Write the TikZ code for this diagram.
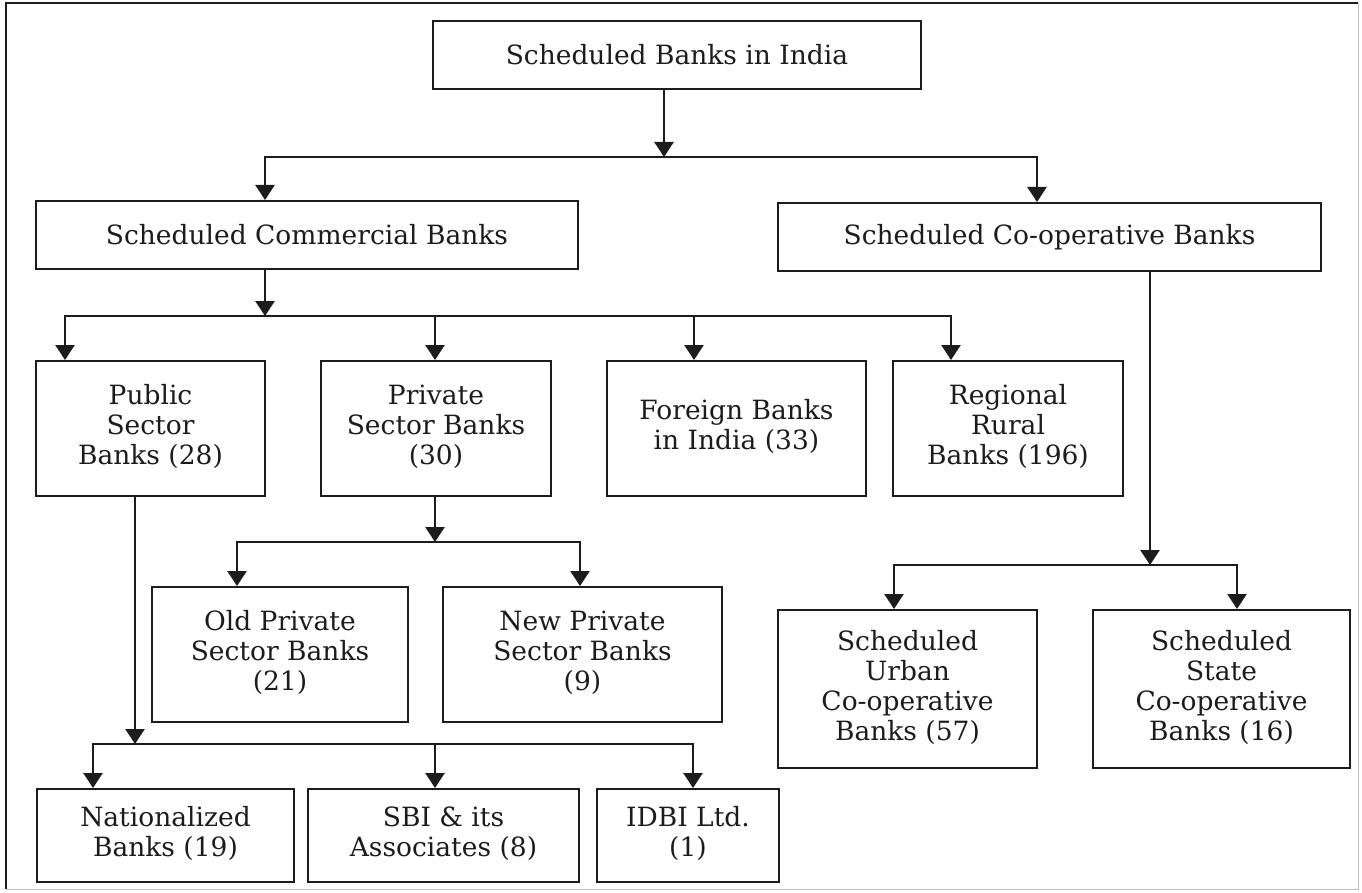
\documentclass[tikz,border=0pt]{standalone}
\usepackage{fontspec}
\setmainfont{DejaVu Serif}
\usetikzlibrary{arrows.meta}
\definecolor{ink}{RGB}{28,28,28}
\newcommand\uptext[2]{\raisebox{#1pt}{\begin{tabular}{@{}c@{}}#2\end{tabular}}}
\begin{document}
\begin{tikzpicture}[x=1pt,y=-1pt,
  bx/.style={draw=ink, line width=2pt, align=center, inner sep=0pt, text=ink,
             font=\fontsize{26.5}{30}\selectfont},
  conn/.style={draw=ink, line width=2.6pt, line cap=rect},
  arr/.style={draw=ink, line width=2.6pt, -{Triangle[width=19pt,length=15pt]}}]
\useasboundingbox (0,0) rectangle (1362,893);
\fill[white] (0,0) rectangle (1362,893);
% outer frame
\draw[ink, line width=1.5pt] (6,889) -- (6,3) -- (1358,3);
\draw[black!25, line width=1pt] (1358,3) -- (1358,889) -- (6,889);

% boxes
\node[bx, minimum width=488, minimum height=68] (top) at (677,55) {Scheduled Banks in India};
\node[bx, minimum width=542, minimum height=68] (sc) at (307,235) {Scheduled Commercial Banks};
\node[bx, minimum width=543, minimum height=68] (sco) at (1049.5,237) {Scheduled Co-operative Banks};
\node[bx, minimum width=229, minimum height=135] (pub) at (150.5,428.5) {\uptext{5}{Public\\Sector\\Banks (28)}};
\node[bx, minimum width=230, minimum height=135] (pvt) at (436,428.5) {\uptext{5}{Private\\Sector Banks\\(30)}};
\node[bx, minimum width=259, minimum height=135] (for) at (736.5,428.5) {\uptext{5}{Foreign Banks\\in India (33)}};
\node[bx, minimum width=230, minimum height=135] (rrb) at (1008,428.5) {\uptext{4}{Regional\\Rural\\Banks (196)}};
\node[bx, minimum width=256, minimum height=135] (old) at (280,654.5) {\uptext{6}{Old Private\\Sector Banks\\(21)}};
\node[bx, minimum width=279, minimum height=135] (new) at (582.5,654.5) {\uptext{9}{New Private\\Sector Banks\\(9)}};
\node[bx, minimum width=259, minimum height=158] (urb) at (907.5,689) {\uptext{6}{Scheduled\\Urban\\Co-operative\\Banks (57)}};
\node[bx, minimum width=257, minimum height=158] (sta) at (1221.5,689) {\uptext{6}{Scheduled\\State\\Co-operative\\Banks (16)}};
\node[bx, minimum width=257, minimum height=93] (nat) at (165.5,835.5) {\uptext{3}{Nationalized\\Banks (19)}};
\node[bx, minimum width=271, minimum height=93] (sbi) at (443.5,835.5) {\uptext{3}{SBI \& its\\Associates (8)}};
\node[bx, minimum width=182, minimum height=93] (idb) at (688,835.5) {\uptext{3}{IDBI Ltd.\\(1)}};

% junctions
\coordinate (j1) at (664,157);
\coordinate (j1l) at (265,157);
\coordinate (j1r) at (1037,157);
\coordinate (j2) at (265,316);
\coordinate (j2a) at (65,316);
\coordinate (j2b) at (435,316);
\coordinate (j2c) at (694,316);
\coordinate (j2d) at (951,316);
\coordinate (j3) at (1150,565);
\coordinate (j3a) at (894,565);
\coordinate (j3b) at (1237,565);
\coordinate (j4) at (435,542);
\coordinate (j4a) at (237,542);
\coordinate (j4b) at (580,542);
\coordinate (j5) at (135,744);
\coordinate (j5a) at (93,744);
\coordinate (j5b) at (435,744);
\coordinate (j5c) at (693,744);

% level 1
\draw[arr] (top.south -| j1) -- (j1);
\draw[conn] (j1l) -- (j1r);
\draw[arr] (j1l) -- (sc.north -| j1l);
\draw[arr] (j1r) -- (sco.north -| j1r);
% commercial
\draw[arr] (sc.south -| j2) -- (j2);
\draw[conn] (j2a) -- (j2d);
\draw[arr] (j2a) -- (pub.north -| j2a);
\draw[arr] (j2b) -- (pvt.north -| j2b);
\draw[arr] (j2c) -- (for.north -| j2c);
\draw[arr] (j2d) -- (rrb.north -| j2d);
% co-operative
\draw[arr] (sco.south -| j3) -- (j3);
\draw[conn] (j3a) -- (j3b);
\draw[arr] (j3a) -- (urb.north -| j3a);
\draw[arr] (j3b) -- (sta.north -| j3b);
% private
\draw[arr] (pvt.south -| j4) -- (j4);
\draw[conn] (j4a) -- (j4b);
\draw[arr] (j4a) -- (old.north -| j4a);
\draw[arr] (j4b) -- (new.north -| j4b);
% public
\draw[arr] (pub.south -| j5) -- (j5);
\draw[conn] (j5a) -- (j5c);
\draw[arr] (j5a) -- (nat.north -| j5a);
\draw[arr] (j5b) -- (sbi.north -| j5b);
\draw[arr] (j5c) -- (idb.north -| j5c);
\end{tikzpicture}
\end{document}
